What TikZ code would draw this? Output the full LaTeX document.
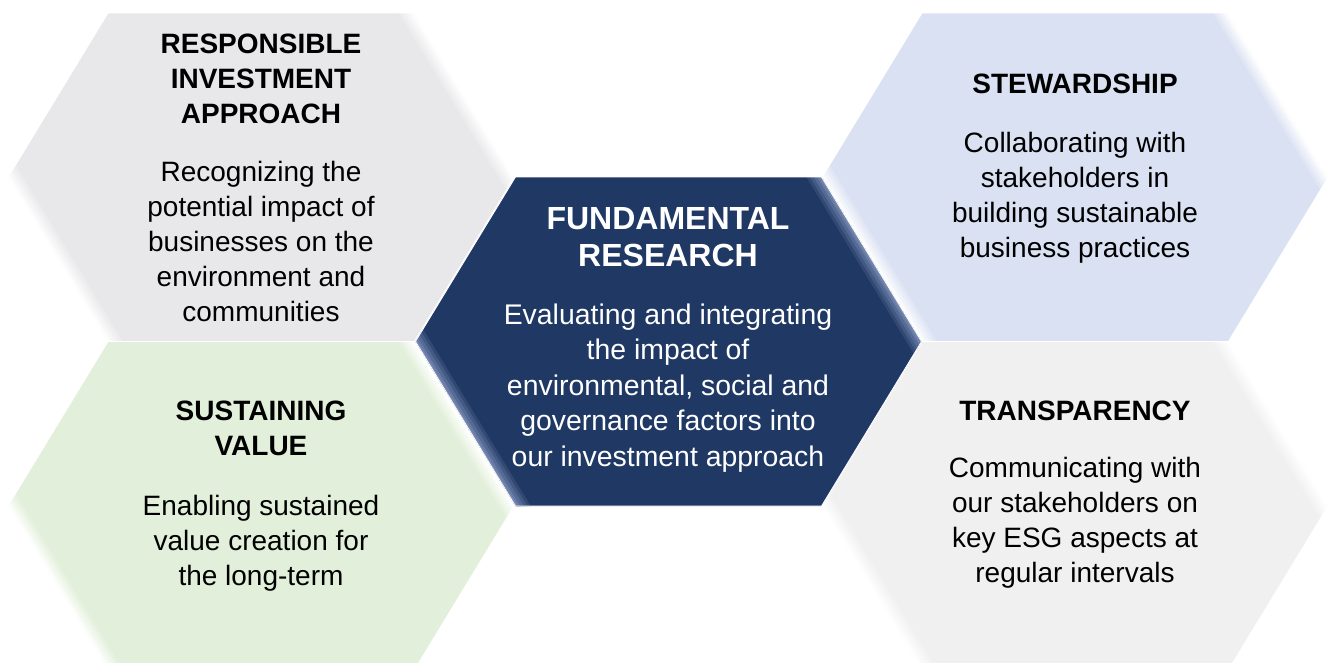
\documentclass[tikz,border=0pt]{standalone}
\usepackage{fontspec}
\setmainfont{Liberation Sans}
\definecolor{hexgray}{RGB}{232,232,234}
\definecolor{hexnavy}{RGB}{32,56,100}
\definecolor{hexblue}{RGB}{217,225,242}
\definecolor{hexgreen}{RGB}{226,239,218}
\definecolor{hexlight}{RGB}{240,240,240}
\definecolor{navyhl}{RGB}{120,140,180}
\tikzset{
  hextitle/.style={align=center, font=\fontsize{28}{35}\selectfont\bfseries, inner sep=0pt},
  hexbody/.style={align=center, font=\fontsize{28}{35}\selectfont, inner sep=0pt},
  centertitle/.style={align=center, font=\fontsize{32}{37}\selectfont\bfseries, inner sep=0pt, text=white},
  centerbody/.style={align=center, font=\fontsize{28.4}{35.5}\selectfont, inner sep=0pt, text=white},
}
% hexagon outline path: center (#1,#2)
\newcommand{\hexoutline}[2]{({#1-253},{#2}) -- ({#1-153},{#2-164.5}) -- ({#1+153},{#2-164.5}) -- ({#1+253},{#2}) -- ({#1+153},{#2+164.5}) -- ({#1-153},{#2+164.5}) -- cycle}
% draw hexagon with bevel strips: cx, cy, fill, highlight
\newcommand{\bevelhex}[4]{%
  \fill[#3] \hexoutline{#1}{#2};
  \begin{scope}
    \clip \hexoutline{#1}{#2};
    \foreach \t/\p in {13/20,10/40,7/60,4/80,2/95} {
      % lower-left edge L -> BL
      \fill[#4!\p!#3] ({#1-253-30*0.519},{#2-30*0.854}) -- ({#1-153+30*0.519},{#2+164.5+30*0.854})
        -- ({#1-153+30*0.519+\t*0.854},{#2+164.5+30*0.854-\t*0.519}) -- ({#1-253-30*0.519+\t*0.854},{#2-30*0.854-\t*0.519}) -- cycle;
      % upper-right edge R -> TR
      \fill[#4!\p!#3] ({#1+253+30*0.519},{#2+30*0.854}) -- ({#1+153-30*0.519},{#2-164.5-30*0.854})
        -- ({#1+153-30*0.519-\t*0.854},{#2-164.5-30*0.854+\t*0.519}) -- ({#1+253+30*0.519-\t*0.854},{#2+30*0.854+\t*0.519}) -- cycle;
    }
  \end{scope}
  \draw[white, line width=0.8pt] \hexoutline{#1}{#2};
}
\begin{document}
\begin{tikzpicture}[x=1pt,y=-1pt]
\useasboundingbox (0,0) rectangle (1328,662);
\begin{scope}
\clip (0,0) rectangle (1328,662);
\bevelhex{261}{177.5}{hexgray}{white}
\bevelhex{1075}{177.5}{hexblue}{white}
\bevelhex{261}{506}{hexgreen}{white}
\bevelhex{1075}{506}{hexlight}{white}
\bevelhex{668.5}{341.5}{hexnavy}{navyhl}
\end{scope}

\node[hextitle] (t1) at (261,79) {RESPONSIBLE\\INVESTMENT\\APPROACH};
\node[hexbody] (b1) at (261,241.5) {Recognizing the\\potential impact of\\businesses on the\\environment and\\communities};

\node[centertitle] (t2) at (668,237) {FUNDAMENTAL\\RESEARCH};
\node[centerbody] (b2) at (668,388) {Evaluating and integrating\\the impact of\\environmental, social and\\governance factors into\\our investment approach};

\node[hextitle] (t3) at (1075,84) {STEWARDSHIP};
\node[hexbody] (b3) at (1075,198) {Collaborating with\\stakeholders in\\building sustainable\\business practices};

\node[hextitle] (t4) at (261,428.5) {SUSTAINING\\VALUE};
\node[hexbody] (b4) at (261,543.5) {Enabling sustained\\value creation for\\the long-term};

\node[hextitle] (t5) at (1075,411) {TRANSPARENCY};
\node[hexbody] (b5) at (1075,523) {Communicating with\\our stakeholders on\\key ESG aspects at\\regular intervals};
\end{tikzpicture}
\end{document}
